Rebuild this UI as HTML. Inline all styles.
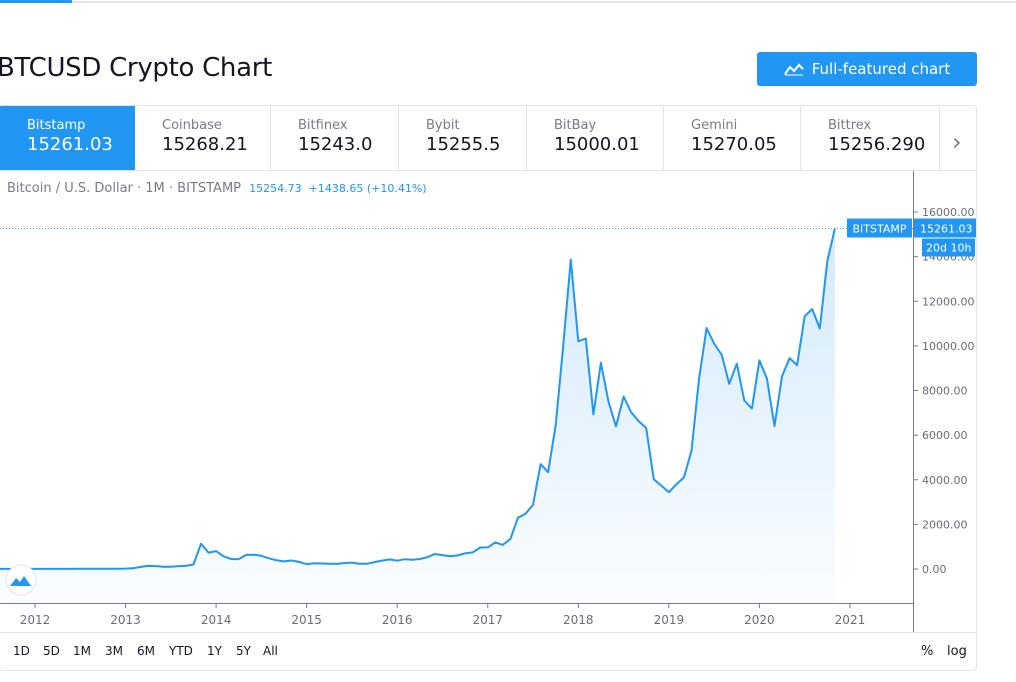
<!DOCTYPE html>
<html><head><meta charset="utf-8"><style>
body{margin:0;width:1016px;height:682px;overflow:hidden;background:#fff;font-family:"DejaVu Sans","Liberation Sans",sans-serif;position:relative}
.abs{position:absolute}
.tab{position:absolute;top:106px;height:64px;border-right:1px solid #e0e3eb;box-sizing:border-box;padding-left:27px}
.tab .l{font-size:13px;color:#787b86;margin-top:12px}
.tab .p{font-size:18px;color:#131722;margin-top:1px}
.rb{position:absolute;top:644px;font-size:12px;color:#131722}
</style></head><body>
<div class="abs" style="left:0;top:0;width:72px;height:3px;background:#2196f3"></div>
<div class="abs" style="left:72px;top:1px;width:944px;height:2px;background:#e0e3eb"></div>
<div class="abs" style="left:-3px;top:53px;font-size:26px;color:#131722;letter-spacing:-0.3px">BTCUSD Crypto Chart</div>
<div class="abs" style="left:757px;top:52px;width:220px;height:34px;background:#2196f3;border-radius:3px;color:#fff;font-size:15px;line-height:34px;text-align:center"><span style="display:inline-block;width:20px;height:14px;vertical-align:-2px;margin-right:8px"><svg width="20" height="14"><polyline points="1,12 6,5 10,9 15,3 19,7" fill="none" stroke="#fff" stroke-width="2"/><line x1="1" y1="13" x2="19" y2="13" stroke="#fff"/></svg></span>Full-featured chart</div>
<div class="abs" style="left:-1px;top:105px;width:978px;height:566px;border:1px solid #e0e3eb;border-radius:4px;box-sizing:border-box"></div>
<div class="tab" style="left:0;width:135px;background:#2196f3;border:none"><div class="l" style="color:#fff">Bitstamp</div><div class="p" style="color:#fff">15261.03</div></div>
<div class="tab" style="left:135px;width:136px"><div class="l">Coinbase</div><div class="p">15268.21</div></div>
<div class="tab" style="left:271px;width:128px"><div class="l">Bitfinex</div><div class="p">15243.0</div></div>
<div class="tab" style="left:399px;width:128px"><div class="l">Bybit</div><div class="p">15255.5</div></div>
<div class="tab" style="left:527px;width:137px"><div class="l">BitBay</div><div class="p">15000.01</div></div>
<div class="tab" style="left:664px;width:137px"><div class="l">Gemini</div><div class="p">15270.05</div></div>
<div class="tab" style="left:801px;width:139px"><div class="l">Bittrex</div><div class="p">15256.290</div></div>
<div class="abs" style="left:952px;top:128px;font-size:24px;color:#787b86">›</div>
<div class="abs" style="left:0;top:170px;width:977px;height:1px;background:#e0e3eb"></div>
<div class="abs" style="left:7px;top:181px;font-size:13px;color:#787b86">Bitcoin / U.S. Dollar · 1M · BITSTAMP <span style="font-size:11px;color:#2196f3;margin-left:4px">15254.73 &nbsp;+1438.65 (+10.41%)</span></div>
<svg class="abs" style="left:0;top:0" width="1016" height="682" id="chart"></svg>
<div class="abs" style="left:0;top:632px;width:977px;height:1px;background:#e0e3eb"></div>
<div class="rb" style="left:13px">1D</div>
<div class="rb" style="left:43px">5D</div>
<div class="rb" style="left:73px">1M</div>
<div class="rb" style="left:105px">3M</div>
<div class="rb" style="left:137px">6M</div>
<div class="rb" style="left:169px">YTD</div>
<div class="rb" style="left:207px">1Y</div>
<div class="rb" style="left:236px">5Y</div>
<div class="rb" style="left:263px">All</div>
<div class="rb" style="left:921px;font-size:13px">%</div>
<div class="rb" style="left:947px;font-size:13px">log</div>
<script>
const startYear=2011, startMonth=7; // Aug 2011 (0-based month)
const prices=[8,5,3,3,4.7,
5.5,4.9,4.9,5,5.2,6.7,9,10,12,11,12.5,13.5,
20,33,93,139,129,97,97,129,141,204,1130,732,
800,570,450,445,630,640,590,480,390,340,380,320,
217,254,245,236,230,263,285,231,236,311,378,430,
370,437,416,448,531,673,624,575,609,700,742,964,
970,1190,1080,1350,2300,2480,2875,4700,4340,6450,10000,13860,
10200,10330,6930,9240,7500,6390,7730,7030,6620,6320,4020,3740,
3440,3800,4100,5300,8500,10800,10100,9600,8300,9200,7550,7190,
9350,8540,6410,8630,9450,9140,11330,11650,10780,13800,15261];
const yTicks=[0,2000,4000,6000,8000,10000,12000,14000,16000];
const xYears=[2012,2013,2014,2015,2016,2017,2018,2019,2020,2021];
const lastLabel="15261.03";
const NS="http://www.w3.org/2000/svg";
const svg=document.getElementById('chart');
const x=t=>35+(t-2012)*90.55;
const y=v=>569-v*(357/16000);
function mk(tag,a,p){const e=document.createElementNS(NS,tag);for(const k in a)e.setAttribute(k,a[k]);(p||svg).appendChild(e);return e;}
const defs=mk('defs',{});
const g=mk('linearGradient',{id:'gf',x1:0,y1:0,x2:0,y2:1},defs);
mk('stop',{offset:'0','stop-color':'#2196f3','stop-opacity':'0.2'},g);
mk('stop',{offset:'1','stop-color':'#2196f3','stop-opacity':'0.02'},g);
const clip=mk('clipPath',{id:'cp'},defs);mk('rect',{x:0,y:171,width:913,height:432},clip);
const pts=prices.map((v,i)=>[x(startYear+(startMonth+i)/12),y(v)]);
const line=pts.map(p=>p[0].toFixed(1)+','+p[1].toFixed(1)).join(' ');
const grp=mk('g',{'clip-path':'url(#cp)'});
const area=mk('polygon',{points:line+' '+pts[pts.length-1][0]+',603 '+pts[0][0]+',603',fill:'url(#gf)'},grp);


const pl=mk('polyline',{points:line,fill:'none',stroke:'#2196f3','stroke-width':2,'stroke-linejoin':'round'},grp);


const ly=y(prices[prices.length-1]);
const dl=mk('line',{x1:0,x2:913,y1:ly,y2:ly,stroke:'#2196f3','stroke-dasharray':'1,2'});


mk('line',{x1:913.5,x2:913.5,y1:171,y2:632,stroke:'#787b86'});
mk('line',{x1:0,x2:913,y1:603.5,y2:603.5,stroke:'#787b86'});
yTicks.forEach(v=>{const yy=y(v);
mk('line',{x1:913,x2:918,y1:yy,y2:yy,stroke:'#787b86'});
const t=mk('text',{x:922,y:yy+4,'font-size':11,fill:'#6a6d78','font-family':'DejaVu Sans, sans-serif'});t.textContent=v.toFixed(2);

});
xYears.forEach(yr=>{const xx=x(yr);
mk('line',{x1:xx,x2:xx,y1:603,y2:608,stroke:'#787b86'});
const t=mk('text',{x:xx,y:624,'font-size':12,fill:'#6a6d78','text-anchor':'middle','font-family':'DejaVu Sans, sans-serif'});t.textContent=yr;

});
mk('rect',{x:847,y:ly-10,width:65,height:19,fill:'#2196f3'});
let t=mk('text',{x:879.5,y:ly+4,'font-size':11,fill:'#fff','text-anchor':'middle','font-family':'DejaVu Sans, sans-serif'});t.textContent='BITSTAMP';


mk('rect',{x:914,y:ly-10,width:62,height:19,fill:'#2196f3'});
t=mk('text',{x:920,y:ly+4,'font-size':11,fill:'#fff','font-family':'DejaVu Sans, sans-serif'});t.textContent=lastLabel;


mk('rect',{x:922,y:ly+10,width:53,height:18,fill:'#2196f3'});
t=mk('text',{x:926,y:ly+23,'font-size':11,fill:'#fff','font-family':'DejaVu Sans, sans-serif'});t.textContent='20d 10h';


const lg=mk('g',{});


mk('circle',{cx:21,cy:580,r:15,fill:'#fff',stroke:'#e0e3eb'},lg);
mk('path',{d:'M10 586 L16 578 L20 582 L24 576 L31 586 Z',fill:'#2196f3'},lg);
</script>
</body></html>
